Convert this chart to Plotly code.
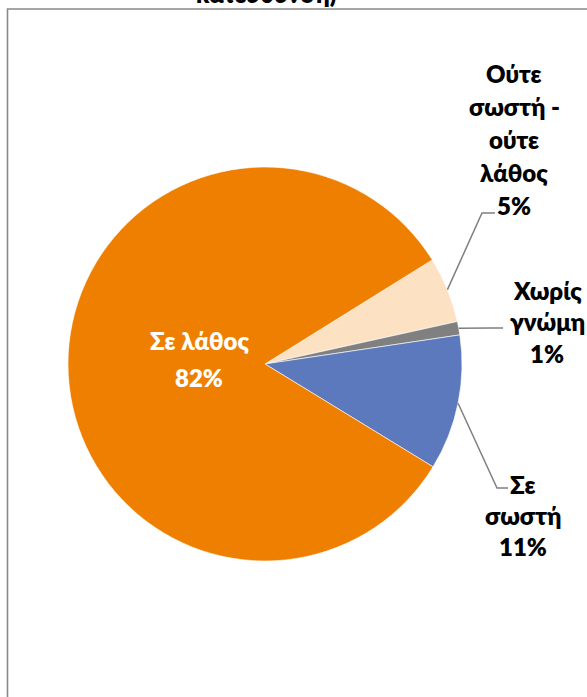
import math
import plotly.graph_objects as go

# ---- data ----
labels = ["Ούτε σωστή - ούτε λάθος", "Χωρίς γνώμη", "Σε σωστή", "Σε λάθος"]
values = [5.4, 1.1, 11.1, 82.4]
label_lines = [["Ούτε", "σωστή -", "ούτε", "λάθος"], ["Χωρίς", "γνώμη"], ["Σε", "σωστή"], ["Σε λάθος"]]
colors = ["#FDE1C3", "#808080", "#5B79BC", "#EF7F00"]
title_text = "κατεύθυνση)"

# ---- layout geometry (pixels) ----
OFF = 0  # page body margin (removed via post_script)
W, H = 587, 697
SCX, SCY, RAD = 265, 364, 197          # pie centre / radius on screen
L = SCX - OFF - RAD
T = SCY - OFF - RAD
R = W - (L + 2 * RAD)
B = H - (T + 2 * RAD)
PW, PH = 2 * RAD, 2 * RAD
ROT = 58.1  # degrees clockwise from 12 o'clock where the first slice starts


def px(x):
    return (x - OFF - L) / PW


def py(y):
    return (H - B - (y - OFF)) / PH


FONT = "Lato, 'Open Sans', sans-serif"
total = sum(values)
pct = [f"{round(v / total * 100)}%" for v in values]

fig = go.Figure(go.Pie(
    labels=labels, values=values, sort=False, direction="clockwise",
    rotation=ROT, marker=dict(colors=colors, line=dict(color="white", width=0.6)),
    textinfo="none", hoverinfo="label+percent", showlegend=False,
))

# mid angles of slices (from data)
mids = []
acc = 0
for v in values:
    a0 = ROT + acc / total * 360
    acc += v
    a1 = ROT + acc / total * 360
    mids.append((a0 + a1) / 2)


def edge_point(ang_deg):
    a = math.radians(ang_deg)
    return SCX + RAD * math.sin(a), SCY - RAD * math.cos(a)


annotations = []
shapes = []

# label placement (screen px): (center x, first line center y, line step, elbow, end, color)
placements = [
    (514, 73.5, 32.9, (482, 213), (495, 213), "black"),
    (547, 290, 31.8, (493, 328), (503, 328), "black"),
    (523, 484.5, 31.0, (497, 488), (508, 488), "black"),
    (199, 340, 37.5, None, None, "white"),
]

for i, (lx, ly, step, elbow, end, col) in enumerate(placements):
    lines = label_lines[i] + [pct[i]]
    for k, t in enumerate(lines):
        annotations.append(dict(
            x=px(lx), y=py(ly + k * step), xref="paper", yref="paper",
            text=t, showarrow=False, xanchor="center", yanchor="middle",
            font=dict(family=FONT, size=24, color=col, weight=800),
        ))
    if elbow is not None:
        sx, sy = edge_point(mids[i])
        path = f"M {px(sx)},{py(sy)} L {px(elbow[0])},{py(elbow[1])} L {px(end[0])},{py(end[1])}"
        shapes.append(dict(type="path", path=path, xref="paper", yref="paper",
                           line=dict(color="#7F7F7F", width=1.5)))

# clipped title (only its bottom part visible)
annotations.append(dict(
    x=px(266), y=py(-6), xref="paper", yref="paper", text=title_text,
    showarrow=False, xanchor="center", yanchor="middle",
    font=dict(family=FONT, size=24, color="black", weight=800),
))

# chart border
shapes.append(dict(type="rect", xref="paper", yref="paper",
                   x0=px(7.5), y0=py(9), x1=px(640), y1=py(740),
                   line=dict(color="#898989", width=1.6), fillcolor="rgba(0,0,0,0)"))

fig.update_layout(
    width=W, height=H, margin=dict(l=L, r=R, t=T, b=B, autoexpand=False),
    paper_bgcolor="white", plot_bgcolor="white",
    annotations=annotations, shapes=shapes,
)

fig.write_html(
    "out.html",
    config={"displayModeBar": False},
    post_script="document.body.style.margin='0';document.body.style.overflow='hidden';",
)
